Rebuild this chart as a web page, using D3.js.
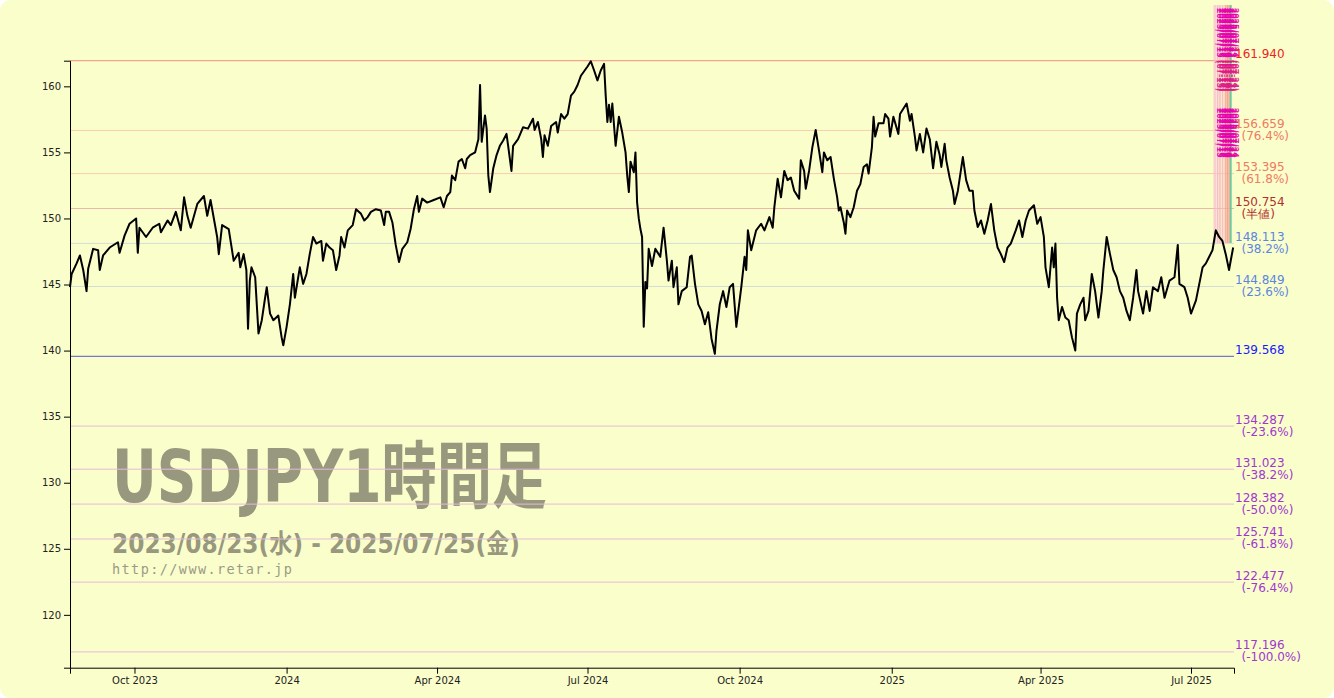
<!DOCTYPE html>
<html><head><meta charset="utf-8">
<script src="https://cdn.jsdelivr.net/npm/d3@7"></script>
<style>
html,body{margin:0;padding:0;background:#ffffff;}
svg{display:block;}
</style></head>
<body>
<svg id="chart" width="1334" height="698"></svg>
<script>
// ---------------- DATA ----------------
const dates = ["2023-08-23","2023-08-24","2023-08-27","2023-08-29","2023-08-31","2023-09-02","2023-09-03","2023-09-06","2023-09-09","2023-09-10","2023-09-12","2023-09-16","2023-09-21","2023-09-22","2023-09-25","2023-09-28","2023-10-02","2023-10-03","2023-10-04","2023-10-08","2023-10-12","2023-10-16","2023-10-17","2023-10-21","2023-10-23","2023-10-26","2023-10-29","2023-10-31","2023-11-02","2023-11-04","2023-11-08","2023-11-12","2023-11-14","2023-11-16","2023-11-20","2023-11-21","2023-11-23","2023-11-27","2023-11-30","2023-12-03","2023-12-04","2023-12-06","2023-12-07T16:00","2023-12-08T16:00","2023-12-09T18:00","2023-12-10T18:00","2023-12-13","2023-12-15","2023-12-17","2023-12-19","2023-12-20","2023-12-22","2023-12-24","2023-12-27","2023-12-29","2023-12-30","2024-01-01","2024-01-03","2024-01-05","2024-01-06","2024-01-09","2024-01-11","2024-01-13","2024-01-15","2024-01-17","2024-01-19","2024-01-22","2024-01-23","2024-01-25","2024-01-27","2024-01-29","2024-01-31","2024-02-02","2024-02-03","2024-02-05","2024-02-07","2024-02-10","2024-02-12","2024-02-15","2024-02-17","2024-02-19","2024-02-21","2024-02-24","2024-02-27","2024-02-29","2024-03-01","2024-03-03","2024-03-05","2024-03-07","2024-03-09","2024-03-11","2024-03-14","2024-03-16","2024-03-18","2024-03-20","2024-03-21","2024-03-23","2024-03-26","2024-03-30","2024-04-03","2024-04-05","2024-04-07","2024-04-09","2024-04-10","2024-04-12","2024-04-14","2024-04-16","2024-04-18","2024-04-19","2024-04-21","2024-04-24","2024-04-25","2024-04-26","2024-04-27","2024-04-28","2024-04-30","2024-05-01","2024-05-02","2024-05-03","2024-05-05","2024-05-07","2024-05-09","2024-05-11","2024-05-13","2024-05-14","2024-05-16","2024-05-17","2024-05-20","2024-05-23","2024-05-26","2024-05-29","2024-05-30","2024-06-01","2024-06-03","2024-06-04","2024-06-05","2024-06-07","2024-06-09","2024-06-12","2024-06-13","2024-06-15","2024-06-17","2024-06-19","2024-06-21","2024-06-23","2024-06-25","2024-06-27","2024-07-01","2024-07-03","2024-07-05","2024-07-07","2024-07-09","2024-07-11","2024-07-12","2024-07-13","2024-07-14","2024-07-15","2024-07-16","2024-07-18","2024-07-20","2024-07-22","2024-07-24","2024-07-25","2024-07-26","2024-07-27","2024-07-29","2024-07-30","2024-07-31","2024-08-01","2024-08-02","2024-08-03","2024-08-04","2024-08-05","2024-08-06","2024-08-07","2024-08-09","2024-08-11","2024-08-14","2024-08-16","2024-08-18","2024-08-19","2024-08-21","2024-08-22","2024-08-24","2024-08-25","2024-08-27","2024-08-30","2024-09-01","2024-09-02","2024-09-04","2024-09-06","2024-09-08","2024-09-10","2024-09-12","2024-09-14","2024-09-16","2024-09-17","2024-09-19","2024-09-21","2024-09-23","2024-09-25","2024-09-27","2024-09-29","2024-10-02","2024-10-04","2024-10-05","2024-10-06","2024-10-08","2024-10-11","2024-10-14","2024-10-16","2024-10-19","2024-10-21","2024-10-22","2024-10-24","2024-10-26","2024-10-28","2024-10-30","2024-11-01","2024-11-03","2024-11-06","2024-11-07","2024-11-09","2024-11-10","2024-11-12","2024-11-14","2024-11-16","2024-11-18","2024-11-20","2024-11-21","2024-11-23","2024-11-25","2024-11-27","2024-11-29","2024-11-30","2024-12-01","2024-12-03","2024-12-04","2024-12-05","2024-12-07","2024-12-09","2024-12-11","2024-12-13","2024-12-15","2024-12-17","2024-12-18","2024-12-20","2024-12-21","2024-12-22","2024-12-24","2024-12-27","2024-12-28","2024-12-30","2024-12-31","2025-01-02","2025-01-05","2025-01-06","2025-01-08","2025-01-10","2025-01-12","2025-01-13","2025-01-15","2025-01-16","2025-01-18","2025-01-20","2025-01-22","2025-01-24","2025-01-26","2025-01-28","2025-01-30","2025-01-31","2025-02-02","2025-02-03","2025-02-05","2025-02-07","2025-02-08","2025-02-10","2025-02-13","2025-02-15","2025-02-17","2025-02-19","2025-02-20","2025-02-22","2025-02-24","2025-02-26","2025-02-28","2025-03-02","2025-03-04","2025-03-06","2025-03-08","2025-03-10","2025-03-12","2025-03-14","2025-03-17","2025-03-19","2025-03-21","2025-03-23","2025-03-25","2025-03-28","2025-03-30","2025-04-01","2025-04-03","2025-04-04","2025-04-06","2025-04-08","2025-04-09","2025-04-10","2025-04-11","2025-04-12","2025-04-14","2025-04-16","2025-04-18","2025-04-20","2025-04-22","2025-04-23","2025-04-25","2025-04-27","2025-04-28","2025-04-30","2025-05-02","2025-05-04","2025-05-06","2025-05-08","2025-05-09","2025-05-11","2025-05-13","2025-05-15","2025-05-17","2025-05-19","2025-05-21","2025-05-23","2025-05-25","2025-05-27","2025-05-29","2025-05-30","2025-06-02","2025-06-04","2025-06-06","2025-06-08","2025-06-11","2025-06-13","2025-06-15","2025-06-18","2025-06-21","2025-06-23","2025-06-24","2025-06-27","2025-06-29","2025-07-01","2025-07-04","2025-07-06","2025-07-08","2025-07-10","2025-07-12","2025-07-14","2025-07-16","2025-07-18","2025-07-20","2025-07-22","2025-07-24","2025-07-25","2025-07-26T12:00"];
const prices = [144.8,145.8,146.6,147.2,146.1,144.5,146.2,147.7,147.6,146.1,147.2,147.8,148.2,147.4,148.7,149.6,150.0,147.4,149.3,148.6,149.3,149.6,148.96,149.85,149.5,150.5,149.1,151.6,150.2,149.3,151.1,151.7,150.2,151.4,148.6,147.3,149.5,149.2,146.8,147.4,146.3,147.3,146.1,141.65,145.3,146.3,145.55,141.3,142.3,144.0,144.8,142.8,142.3,142.65,141.0,140.4,141.8,143.5,145.8,144.0,146.3,145.05,145.8,147.3,148.6,148.1,148.3,146.8,148.1,147.8,147.6,146.1,147.2,148.6,147.8,149.1,149.5,150.7,150.35,149.85,150.1,150.5,150.7,150.6,149.5,150.5,150.5,149.7,148.0,146.7,147.7,148.2,149.2,150.7,151.7,150.5,151.5,151.2,151.4,151.6,150.85,151.7,152.0,153.25,152.9,154.3,154.5,153.8,154.5,154.8,155.0,155.5,156.0,160.1,155.8,157.8,156.8,153.25,152.0,153.8,154.8,155.5,155.9,156.4,155.5,153.6,155.5,156.0,156.9,156.8,157.55,156.7,157.3,156.0,154.65,156.3,155.5,157.0,157.3,156.5,157.9,157.55,157.9,159.3,159.6,160.1,160.8,161.5,161.9,161.2,160.45,161.2,161.7,159.3,157.3,158.6,157.3,158.7,155.5,157.7,156.5,155.0,153.25,152.0,154.3,153.5,155.0,151.2,150.0,149.2,148.6,141.8,145.2,144.7,147.7,146.4,147.7,147.1,149.3,146.8,145.3,146.8,144.8,146.3,143.5,144.5,144.8,147.1,147.2,145.05,143.5,143.0,142.0,142.9,140.9,139.75,141.5,143.5,144.5,143.3,144.8,145.05,141.8,144.8,147.1,146.1,149.1,147.6,149.1,149.6,149.1,150.1,149.3,150.85,153.0,151.6,153.6,152.9,153.1,152.1,151.5,154.4,153.6,152.25,153.6,155.4,156.7,155.15,153.5,155.0,154.4,154.65,153.0,151.6,150.6,150.85,149.7,148.85,150.6,150.1,150.85,152.1,152.6,153.9,154.1,153.4,155.4,157.7,156.2,157.2,157.2,157.9,157.55,156.2,157.7,156.4,157.9,158.3,158.7,157.4,157.9,156.2,155.15,156.4,155.0,156.8,156.0,153.8,155.8,154.8,153.9,155.65,154.4,153.1,152.1,151.1,152.1,154.65,152.9,152.1,152.1,150.6,149.35,149.85,148.85,149.85,151.1,149.1,147.8,147.3,146.7,147.8,148.1,149.1,149.85,148.6,149.85,150.6,151.0,149.6,150.1,148.6,146.3,144.8,147.8,146.3,148.1,144.0,142.3,143.3,142.5,142.3,141.0,140.0,142.8,143.5,144.0,142.3,143.0,145.8,144.5,142.5,144.5,146.1,148.6,147.3,146.1,145.55,144.5,144.0,143.0,142.3,144.0,146.1,144.5,142.8,144.5,143.0,144.8,144.5,145.55,144.0,145.3,145.55,148.0,145.05,144.8,144.0,142.8,143.8,145.05,146.3,146.6,147.1,147.6,149.1,148.6,148.3,147.3,146.1,146.8,147.8];

// Fibonacci / reference levels
const levelValues = [161.940,156.659,153.395,150.754,148.113,144.849,139.568,134.287,131.023,128.382,125.741,122.477,117.196];
const levelNotes  = ["","(76.4%)","(61.8%)","(半値)","(38.2%)","(23.6%)","","(-23.6%)","(-38.2%)","(-50.0%)","(-61.8%)","(-76.4%)","(-100.0%)"];
const levelLineColors = ["#f4a48c","#f9cdb0","#f9cdb0","#ecb8a8","#d3dcd8","#d3dcd8","#7878c8","#e4bcd8","#e4bcd8","#e4bcd8","#e4bcd8","#e4bcd8","#e4bcd8"];
const levelTextColors = ["#ee2222","#f07a62","#f07a62","#b23030","#5a86e0","#5a86e0","#1a1aff","#a038d0","#a038d0","#a038d0","#a038d0","#a038d0","#a038d0"];

// recent event markers (top-right)
const markerDates = ["2025-07-15","2025-07-16","2025-07-17","2025-07-18","2025-07-19","2025-07-20","2025-07-21","2025-07-22","2025-07-23","2025-07-24","2025-07-25"];
const markerColors = ["#f8b8d0","#f8b8d0","#f8b8d0","#f4a8c8","#f8b8d0","#f8c0b0","#f8b8d0","#f4a090","#f4a090","#f4a090","#70c8a0"];

const yDomain = [116.0, 161.94];
const xDomain = ["2023-08-23","2025-07-27"];

// ---------------- CHART ----------------
const W = 1334, H = 698;
const M = {left:70, right:100, top:60.7, bottom:30.3};
const svg = d3.select("#chart");
svg.append("rect").attr("x",0).attr("y",0).attr("width",W).attr("height",H).attr("rx",11).attr("ry",11).attr("fill","#fafecb");

const x = d3.scaleTime().domain(xDomain.map(d=>new Date(d+"T00:00"))).range([M.left, W-M.right]);
const y = d3.scaleLinear().domain(yDomain).range([H-M.bottom, M.top]);

const parse = s => new Date(s.length===10 ? s+"T00:00" : s);
const series = dates.map((d,i)=>({t:parse(d), v:prices[i]}));

// watermark
const wm = svg.append("g");
wm.append("text").attr("x",112).attr("y",502)
  .attr("font-family","'DejaVu Sans', 'Noto Sans CJK JP', sans-serif").attr("font-weight",700)
  .attr("font-size",73).attr("fill","#97987d")
  .attr("textLength",435).attr("lengthAdjust","spacingAndGlyphs")
  .text("USDJPY1時間足");
wm.append("text").attr("x",112).attr("y",553)
  .attr("font-family","'DejaVu Sans', 'Noto Sans CJK JP', sans-serif").attr("font-weight",700)
  .attr("font-size",26).attr("fill","#97987d")
  .attr("textLength",408).attr("lengthAdjust","spacingAndGlyphs")
  .text("2023/08/23(水) - 2025/07/25(金)");
wm.append("text").attr("x",112).attr("y",574)
  .attr("font-family","'DejaVu Sans Mono', monospace")
  .attr("font-size",13.5).attr("fill","#9a9a88")
  .attr("textLength",180).attr("lengthAdjust","spacing")
  .text("http://www.retar.jp");

// level lines
const lv = svg.append("g");
levelValues.forEach((v,i)=>{
  lv.append("line").attr("x1",M.left).attr("x2",W-M.right)
    .attr("y1",y(v)).attr("y2",y(v))
    .attr("stroke",levelLineColors[i]).attr("stroke-width", i===0||i===6 ? 1.3 : 1);
});

// marker lines
const mk = svg.append("g");
mk.append("rect").attr("x",x(parse(markerDates[7]))).attr("y",5)
  .attr("width",x(parse(markerDates[10]))-x(parse(markerDates[7]))).attr("height",238)
  .attr("fill","#f6b89a").attr("opacity",0.55);
markerDates.forEach((d,i)=>{
  mk.append("line").attr("x1",x(parse(d))).attr("x2",x(parse(d)))
    .attr("y1",5).attr("y2",243).attr("stroke",markerColors[i]).attr("stroke-width", i===10?2:1);
});

// price line
svg.append("path").datum(series)
  .attr("fill","none").attr("stroke","#000").attr("stroke-width",2).attr("stroke-linejoin","round")
  .attr("d", d3.line().x(d=>x(d.t)).y(d=>y(d.v)));

// marker labels (vertical)
const mlab = svg.append("g").attr("font-family","'Noto Sans CJK JP', sans-serif").attr("font-size",9).attr("font-weight",700);
markerDates.forEach((d,i)=>{
  if(i===10) return;
  const mx = x(parse(d)) + 3;
  [8, 60, 108].forEach((yy,k)=>{
    mlab.append("text").attr("transform",`translate(${mx},${yy}) rotate(90)`)
      .attr("fill", k===1 ? "#e0188a" : "#e600b0").attr("opacity",0.9)
      .text(k===0 ? d.replace(/-/g,"/") : (k===1 ? "(" + d.slice(5) + ")" : "2025/" + d.slice(5).replace("-","/")));
  });
});

// level labels
const lt = svg.append("g").attr("font-family","'DejaVu Sans', Verdana, sans-serif").attr("font-size",12);
levelValues.forEach((v,i)=>{
  lt.append("text").attr("x",W-M.right+1).attr("y",y(v)-2.5).attr("fill",levelTextColors[i]).text(v.toFixed(3));
  if(levelNotes[i]) lt.append("text").attr("x",W-M.right+7.5).attr("y",y(v)+9.5).attr("fill",levelTextColors[i]).text(levelNotes[i]);
});

// axes
const fmt = d => d.getMonth()===0 ? d3.timeFormat("%Y")(d) : d3.timeFormat("%b %Y")(d);
const xAxis = svg.append("g").attr("transform",`translate(0,${H-M.bottom})`)
  .call(d3.axisBottom(x).ticks(d3.timeMonth.every(3)).tickFormat(fmt));
const yAxis = svg.append("g").attr("transform",`translate(${M.left},0)`)
  .call(d3.axisLeft(y).ticks(10));
[xAxis,yAxis].forEach(a=>{
  a.attr("font-family","'DejaVu Sans', Verdana, sans-serif").attr("font-size",10);
  a.selectAll("text").attr("fill","#222");
  a.selectAll("path,line").attr("stroke","#000");
});
</script>
</body></html>
